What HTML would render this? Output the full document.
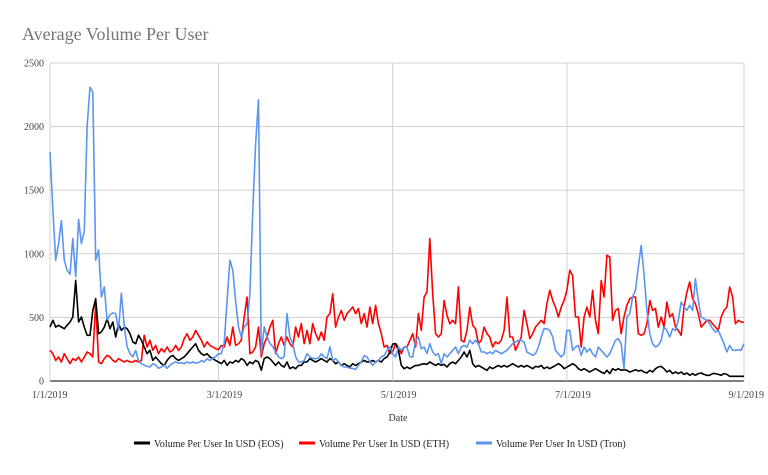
<!DOCTYPE html>
<html><head><meta charset="utf-8"><style>
html,body{margin:0;padding:0;background:#fff;}
svg{display:block;font-family:"Liberation Serif",serif;}
</style></head><body>
<svg id="chart" width="768" height="475" viewBox="0 0 768 475">
<text x="22" y="40" font-size="18" fill="#757575">Average Volume Per User</text>
<g id="grid"></g><g id="series"></g><g id="axes"></g>
<text x="398" y="421" font-size="10" fill="#333" text-anchor="middle">Date</text>
<g font-size="10" fill="#222">
<g><line x1="134" y1="443" x2="150" y2="443" stroke="#000" stroke-width="3"/><text x="154" y="447">Volume Per User In USD (EOS)</text></g>
<g><line x1="299" y1="443" x2="315" y2="443" stroke="#f00" stroke-width="3"/><text x="319" y="447">Volume Per User In USD (ETH)</text></g>
<g><line x1="476" y1="443" x2="492" y2="443" stroke="#5b95ee" stroke-width="3"/><text x="496" y="447">Volume Per User In USD (Tron)</text></g>
</g>
</svg>
<script>
const yTicks=[0,500,1000,1500,2000,2500];
const xTickDays=[0,59,120,181,243];
const xTickLabels=["1/1/2019","3/1/2019","5/1/2019","7/1/2019","9/1/2019"];
const eos=[424,477,424,438,424,411,438,464,503,791,464,503,424,359,359,555,647,372,385,424,490,411,464,346,451,398,424,411,372,307,293,359,320,267,215,241,162,189,162,136,123,162,189,202,176,162,176,189,215,241,267,293,241,215,202,215,189,176,162,149,136,162,123,149,141,162,149,176,162,123,149,136,162,149,84,176,189,176,149,123,149,123,110,149,97,110,97,123,123,149,149,176,162,149,162,176,162,149,176,162,136,149,123,136,123,110,136,123,136,149,162,149,149,162,149,162,149,176,189,228,290,293,241,123,97,110,97,110,123,123,131,136,131,149,136,123,136,123,131,110,136,149,136,162,189,228,189,241,136,110,123,110,97,84,110,97,110,123,110,123,110,123,136,123,110,123,110,123,110,97,115,110,123,97,110,97,110,123,136,123,97,110,123,136,123,97,84,97,84,71,84,97,84,71,58,84,58,97,84,97,84,89,84,71,79,89,79,84,71,63,84,71,97,110,115,97,71,84,58,71,58,71,52,63,45,58,45,58,63,52,45,45,58,58,52,45,58,52,37,37,37,37,37,37];
const eth=[241,215,162,189,149,215,176,136,176,162,189,149,189,228,215,189,621,149,136,176,202,189,162,149,176,162,149,162,149,149,162,149,162,359,267,320,241,280,215,254,228,267,228,241,280,241,267,333,372,320,346,398,359,320,267,307,280,267,254,246,280,267,346,280,424,280,293,320,503,660,215,228,267,424,189,293,346,424,477,215,293,346,280,346,293,267,424,346,451,293,398,293,451,372,320,385,320,503,529,686,424,503,555,477,529,555,582,529,569,451,529,424,582,451,595,451,372,267,280,215,228,293,267,215,267,267,320,372,267,530,398,660,700,1120,686,372,346,372,634,516,450,477,450,740,320,307,398,580,437,411,293,320,424,372,346,267,307,293,320,398,660,346,346,241,293,346,555,451,333,372,424,451,477,451,608,713,634,580,503,580,634,713,870,830,503,503,267,503,580,503,713,477,372,791,660,988,975,477,555,569,372,503,595,647,660,660,372,359,372,450,634,555,569,424,503,424,621,503,529,424,398,359,580,700,778,647,608,529,424,450,477,477,450,424,398,503,555,582,739,660,450,477,464,460];
const tron=[1800,1340,950,1080,1260,950,870,840,1120,820,1270,1080,1180,2000,2310,2270,950,1030,660,740,480,520,535,530,400,690,425,270,215,190,240,160,135,125,115,110,135,125,100,110,125,100,125,140,150,140,145,135,150,140,150,140,145,160,150,175,160,180,190,215,215,300,630,950,870,630,425,345,425,450,690,1340,1865,2210,215,425,345,295,270,230,190,175,190,530,345,295,190,150,150,160,215,190,176,176,180,215,190,176,270,160,176,149,125,110,110,100,100,90,123,150,200,190,150,123,150,160,190,200,240,270,215,189,267,241,267,267,189,189,320,346,254,267,215,293,228,202,215,136,215,189,215,241,267,215,267,280,267,320,293,320,293,228,228,215,228,215,241,228,215,228,241,267,293,306,320,320,306,228,215,202,215,267,346,411,411,398,346,241,215,189,215,398,398,241,267,280,202,267,228,254,215,189,267,241,215,189,215,267,320,333,293,97,503,529,660,713,896,1066,843,555,372,293,267,280,320,424,398,346,411,398,477,621,582,555,595,555,804,634,503,490,477,451,411,385,398,346,293,228,280,241,241,246,241,293];
const X0=50,X1=744,Y0=381,Y1=63,DAYS=243,YMAX=2500;
const xs=d=>X0+d*(X1-X0)/DAYS;
const ys=v=>Y0-v*(Y0-Y1)/YMAX;
const NS="http://www.w3.org/2000/svg";
function mk(tag,attrs,parent){const e=document.createElementNS(NS,tag);for(const k in attrs)e.setAttribute(k,attrs[k]);parent.appendChild(e);return e;}
const grid=document.getElementById('grid'),axes=document.getElementById('axes'),ser=document.getElementById('series');
yTicks.forEach(t=>{
 const l=mk('line',{x1:X0,x2:X1,y1:ys(t),y2:ys(t),stroke:t===0?'#333':'#d0d0d0','stroke-width':t===0?1.2:1},grid);
 
 
 const tx=mk('text',{x:44,y:ys(t)+3.5,'font-size':10,fill:'#444','text-anchor':'end'},axes);
 tx.textContent=t;
 
 
});
xTickDays.forEach((d,i)=>{
 const l=mk('line',{x1:xs(d),x2:xs(d),y1:Y1,y2:Y0,stroke:'#d0d0d0','stroke-width':1},grid);
 
 
 const anchor=i===0?'start':(i===xTickDays.length-1?'end':'middle');
 const tx=mk('text',{x:i===0?xs(d)-18:(i===xTickDays.length-1?xs(d)+20:xs(d)+6),y:398,'font-size':10,fill:'#444','text-anchor':anchor},axes);
 tx.textContent=xTickLabels[i];
 
 
});
function draw(arr,color,name){
 const p=mk('polyline',{points:arr.map((v,i)=>xs(i).toFixed(1)+','+ys(v).toFixed(1)).join(' '),fill:'none',stroke:color,'stroke-width':1.6,'stroke-linejoin':'round'},ser);
 
 
}
draw(eth,'#f00','series-eth-line');
draw(eos,'#000','series-eos-line');
draw(tron,'#5b95ee','series-tron-line');
</script>
</body></html>
